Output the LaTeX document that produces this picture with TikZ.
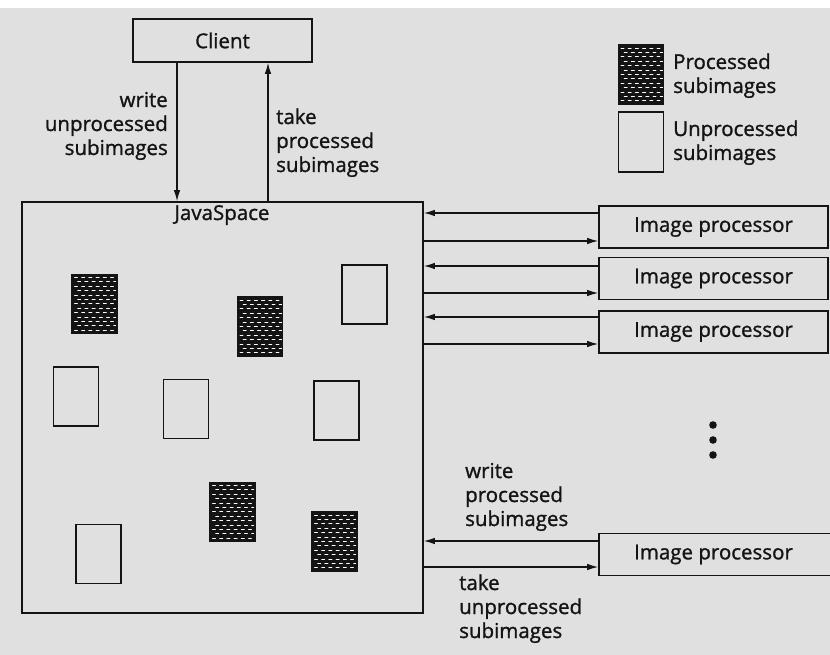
\documentclass[tikz,border=0pt]{standalone}
\usepackage{fontspec}
\setmainfont{Open Sans}[FakeBold=1.2]
\usetikzlibrary{calc,arrows.meta}
\definecolor{bgcol}{RGB}{224,224,224}
\definecolor{ink}{RGB}{20,20,20}
\tikzset{
  box/.style={draw=ink, line width=1.6pt, inner sep=0pt, font=\fontsize{20.5}{24}\selectfont, text=ink},
  lbl/.style={inner sep=0pt, font=\fontsize{20.5}{24}\selectfont, text=ink},
  arr/.style={draw=ink, line width=1.3pt, -{Latex[length=11pt,width=6.5pt]}},
  unproc/.style={draw=ink, line width=1.7pt, minimum width=45pt, minimum height=59pt, inner sep=0pt},
  proc/.style={unproc, fill=ink, path picture={
      \foreach \r in {0,...,12} {\foreach \c in {0,...,5} {
        \draw[white, line width=0.9pt, line cap=round]
          ($(path picture bounding box.north west)+({2.5+\c*7.2+mod(\r,2)*3.2},{3+\r*4.4})$) -- ++(3,0);
      }}}},
}
\begin{document}
\begin{tikzpicture}[x=1pt,y=-1pt]
\fill[bgcol] (0,0) rectangle (830,655);
\useasboundingbox (0,0) rectangle (830,655);
\fill[white] (0,0) rectangle (830,8);

% Client and JavaSpace
\node[box, minimum width=179pt, minimum height=43pt] (client) at (222.5,40.5) {Client};
\node[box, minimum width=401pt, minimum height=411pt] (js) at (222.5,407.5) {};
\node[lbl, anchor=base] (jslabel) at (222,220) {JavaSpace};

\coordinate (wx) at (177,0);
\coordinate (tx) at (268,0);
\draw[arr] (client.south -| wx) -- (js.north -| wx);
\draw[arr] (js.north -| tx) -- (client.south -| tx);
\node[lbl, align=right, anchor=base east] (wlab) at (168,155) {write\\unprocessed\\subimages};
\node[lbl, align=left, anchor=base west] (tlab) at (276,172) {take\\processed\\subimages};

% Legend
\node[proc] (legp) at (641,74.5) {};
\node[unproc, minimum height=60pt] (legu) at (641,142) {};
\node[lbl, align=left, anchor=base west] (legpl) at (673,93) {Processed\\subimages};
\node[lbl, align=left, anchor=base west] (legul) at (673,160) {Unprocessed\\subimages};

% Subimages inside JavaSpace
\node[proc]   (s1) at (94.5,304) {};
\node[proc]   (s2) at (260,326.5) {};
\node[unproc] (s3) at (364.5,294.5) {};
\node[unproc] (s4) at (76,396.5) {};
\node[unproc] (s5) at (186,409) {};
\node[unproc] (s6) at (336.5,410.5) {};
\node[proc]   (s7) at (232.5,512) {};
\node[proc]   (s8) at (334.5,541.5) {};
\node[unproc] (s9) at (98.5,554) {};

% Image processors
\node[box, minimum width=229pt, minimum height=42pt] (ip1) at (713.5,227) {Image processor};
\node[box, minimum width=229pt, minimum height=42pt] (ip2) at (713.5,278.5) {Image processor};
\node[box, minimum width=229pt, minimum height=42pt] (ip3) at (713.5,332) {Image processor};
\node[box, minimum width=233pt, minimum height=42pt] (ip4) at (715.5,554.5) {\hspace*{-4pt}Image processor};

\foreach \n/\u/\d in {ip1/14/14, ip2/12.5/14.5, ip3/15/12, ip4/13.5/12.5} {
  \draw[arr] ([yshift=\u pt]\n.west) -- ([yshift=\u pt]\n.west -| js.east);
  \draw[arr] ([yshift=-\d pt]\n.west -| js.east) -- ([yshift=-\d pt]\n.west);
}

\foreach \y in {425,440,455} \fill[ink] (713,\y) circle (3.8);

\node[lbl, align=left, anchor=base west] (wplab) at (465,526) {write\\processed\\subimages};
\node[lbl, align=left, anchor=base west] (tulab) at (459,638) {take\\unprocessed\\subimages};
\end{tikzpicture}
\end{document}
